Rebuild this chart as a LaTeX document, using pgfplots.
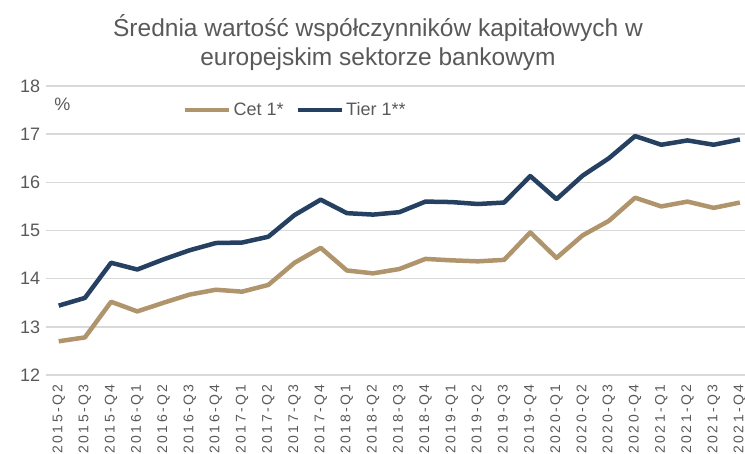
\documentclass[border=0pt]{standalone}
\usepackage{fontspec}
\setmainfont{Liberation Sans}
\newfontfamily\spaced[LetterSpace=18]{Liberation Sans}
\usepackage{pgfplots}
\pgfplotsset{compat=1.18}
\definecolor{cet}{RGB}{176,148,108}
\definecolor{tier}{RGB}{38,64,98}
\definecolor{txt}{RGB}{89,89,89}
\definecolor{grd}{RGB}{217,217,217}
\begin{document}
\begin{tikzpicture}[x=1pt,y=1pt]
\useasboundingbox (0,0) rectangle (745,454);
\begin{axis}[
  at={(45.6pt,79pt)}, anchor=south west,
  scale only axis, width=700.85pt, height=289pt,
  xmin=-0.5, xmax=26.25, ymin=12, ymax=18,
  ytick={12,13,...,18},
  xtick={0,1,...,26},
  xticklabels={2015-Q2,2015-Q3,2015-Q4,2016-Q1,2016-Q2,2016-Q3,2016-Q4,2017-Q1,2017-Q2,2017-Q3,2017-Q4,2018-Q1,2018-Q2,2018-Q3,2018-Q4,2019-Q1,2019-Q2,2019-Q3,2019-Q4,2020-Q1,2020-Q2,2020-Q3,2020-Q4,2021-Q1,2021-Q2,2021-Q3,2021-Q4},
  axis line style={draw=none},
  tick style={draw=none},
  ymajorgrids,
  grid style={grd, line width=1.5pt},
  /pgf/number format/assume math mode=true,
  x tick label style={rotate=90, anchor=east, font=\spaced\fontsize{14}{14}\selectfont, text=txt, inner sep=0pt},
  xticklabel shift=9pt,
  y tick label style={font=\fontsize{18}{18}\selectfont, text=txt},
  yticklabel shift=2pt,
  legend columns=2,
  legend style={at={(axis description cs:0.196,0.917)}, anchor=west, draw=none, fill=none, inner sep=0pt,
    font=\fontsize{18}{18}\selectfont, text=txt,
    /tikz/every even column/.append style={column sep=10pt}},
  legend image code/.code={\draw[#1, line width=4.5pt] (0pt,0pt) -- (44pt,0pt);},
  clip=false,
]
\addplot[cet, line width=4.5pt, line join=round] coordinates {
(0,12.70) (1,12.78) (2,13.52) (3,13.32) (4,13.50) (5,13.67) (6,13.77) (7,13.73) (8,13.87) (9,14.33) (10,14.64) (11,14.17) (12,14.11) (13,14.20) (14,14.41) (15,14.38) (16,14.36) (17,14.39) (18,14.96) (19,14.43) (20,14.90) (21,15.20) (22,15.68) (23,15.50) (24,15.60) (25,15.47) (26,15.58)};
\addlegendentry{Cet 1*}
\addplot[tier, line width=4.5pt, line join=round] coordinates {
(0,13.44) (1,13.60) (2,14.33) (3,14.19) (4,14.40) (5,14.59) (6,14.74) (7,14.75) (8,14.87) (9,15.32) (10,15.64) (11,15.36) (12,15.33) (13,15.38) (14,15.60) (15,15.59) (16,15.55) (17,15.58) (18,16.13) (19,15.65) (20,16.14) (21,16.50) (22,16.96) (23,16.78) (24,16.87) (25,16.78) (26,16.89)};
\addlegendentry{Tier 1**}
\end{axis}
\node[text=txt, font=\fontsize{18}{18}\selectfont] at (62.5,350) {\%};
\node[anchor=base, text=txt, font=\fontsize{24.5}{24.5}\selectfont, inner sep=0pt] at (378,417) {Średnia wartość współczynników kapitałowych w};
\node[anchor=base, text=txt, font=\fontsize{24.5}{24.5}\selectfont, inner sep=0pt] at (378,388) {europejskim sektorze bankowym};
\end{tikzpicture}
\end{document}
